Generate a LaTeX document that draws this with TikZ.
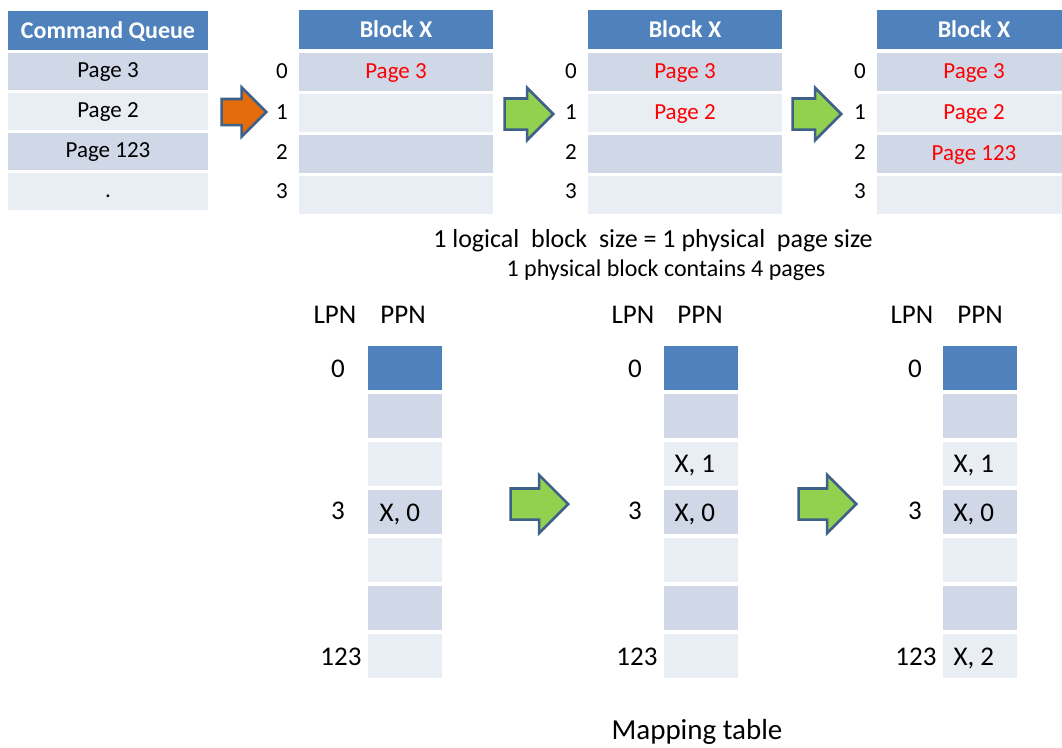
\documentclass[tikz,border=0pt]{standalone}
\usepackage{fontspec}
\setmainfont{Carlito}
\usetikzlibrary{shapes.arrows}

\definecolor{hdrblue}{HTML}{4F81BD}
\definecolor{rowdark}{HTML}{D0D8E8}
\definecolor{rowlight}{HTML}{E9EDF4}
\definecolor{arrowedge}{HTML}{3F6088}
\definecolor{orangefill}{HTML}{E46C0A}
\definecolor{greenfill}{HTML}{92D050}

\tikzset{
  cell/.style={inner sep=0pt, outer sep=0pt, font=\fontsize{23}{27}\selectfont, text height=15pt, text depth=3pt},
  hdr/.style={cell, fill=hdrblue, text=white, font=\fontsize{24}{29}\selectfont\bfseries, text height=16pt, text depth=0pt, minimum height=39pt},
  rowd/.style={cell, fill=rowdark, minimum height=37pt},
  rowl/.style={cell, fill=rowlight, minimum height=37pt},
  idx/.style={font=\fontsize{23}{27}\selectfont},
  ppn/.style={inner sep=0pt, outer sep=0pt, minimum width=74pt, minimum height=44pt},
  lbl/.style={font=\fontsize{27}{32}\selectfont},
  entry/.style={font=\fontsize{27}{32}\selectfont, anchor=west},
  blockarrow/.style={single arrow, draw=arrowedge, line width=2.6pt, inner xsep=0pt, anchor=tip},
  orangearrow/.style={blockarrow, fill=orangefill, inner ysep=11.75pt, single arrow head extend=11.5pt, minimum height=44.5pt},
  greenarrow/.style={blockarrow, fill=greenfill, inner ysep=14.25pt, single arrow head extend=10.5pt, minimum height=48.5pt},
  biggreenarrow/.style={blockarrow, fill=greenfill, inner ysep=14.25pt, single arrow head extend=13.5pt, minimum height=57.5pt}
}

\begin{document}
\begin{tikzpicture}[x=1pt, y=-1pt]
  \useasboundingbox (0,0) rectangle (1062,747);
  \clip (0,0) rectangle (1062,747);

  % Command queue
  \node[hdr, minimum width=200pt] (cqh) at (108,30.5) {Command Queue};
  \node[rowd, minimum width=200pt] (cq1) at (108,71.5) {Page 3};
  \node[rowl, minimum width=200pt] (cq2) at (108,111.5) {Page 2};
  \node[rowd, minimum width=200pt] (cq3) at (108,151.5) {Page 123};
  \node[rowl, minimum width=200pt] (cq4) at (108,191) {.};

  % First block
  \node[hdr, minimum width=194pt] (bah) at (396,29.5) {Block X};
  \node[rowd, minimum width=194pt, minimum height=38pt] (ba0) at (396,72) {\textcolor{red}{Page 3}};
  \node[rowl, minimum width=194pt, minimum height=38pt] (ba1) at (396,113) {};
  \node[rowd, minimum width=194pt, minimum height=38pt] (ba2) at (396,154) {};
  \node[rowl, minimum width=194pt, minimum height=38pt] (ba3) at (396,195) {};
  \node[idx] (ia0) at (282,71) {0};
  \node[idx] (ia1) at (282,112) {1};
  \node[idx] (ia2) at (282,152) {2};
  \node[idx] (ia3) at (282,191) {3};

  % Second block
  \node[hdr, minimum width=194pt] (bbh) at (685,29.5) {Block X};
  \node[rowd, minimum width=194pt, minimum height=38pt] (bb0) at (685,72) {\textcolor{red}{Page 3}};
  \node[rowl, minimum width=194pt, minimum height=38pt] (bb1) at (685,113) {\textcolor{red}{Page 2}};
  \node[rowd, minimum width=194pt, minimum height=38pt] (bb2) at (685,154) {};
  \node[rowl, minimum width=194pt, minimum height=38pt] (bb3) at (685,195) {};
  \node[idx] (ib0) at (571,71) {0};
  \node[idx] (ib1) at (571,112) {1};
  \node[idx] (ib2) at (571,152) {2};
  \node[idx] (ib3) at (571,191) {3};

  % Third block
  \node[hdr, minimum width=194pt] (bch) at (974,29.5) {Block X};
  \node[rowd, minimum width=194pt, minimum height=38pt] (bc0) at (974,72) {\textcolor{red}{Page 3}};
  \node[rowl, minimum width=194pt, minimum height=38pt] (bc1) at (974,113) {\textcolor{red}{Page 2}};
  \node[rowd, minimum width=194pt, minimum height=38pt] (bc2) at (974,154) {\textcolor{red}{Page 123}};
  \node[rowl, minimum width=194pt, minimum height=38pt] (bc3) at (974,195) {};
  \node[idx] (ic0) at (860,71) {0};
  \node[idx] (ic1) at (860,112) {1};
  \node[idx] (ic2) at (860,152) {2};
  \node[idx] (ic3) at (860,191) {3};

  % Arrows between the blocks
  \node[orangearrow] (arr1) at (268,112) {};
  \node[greenarrow] (arr2) at (555,114) {};
  \node[greenarrow] (arr3) at (843,114) {};

  \node[font=\fontsize{26}{30}\selectfont] (note1) at (653,241) {1 logical\ \ block\ \ size = 1 physical\ \ page size};
  \node[font=\fontsize{24}{28}\selectfont] (note2) at (666,270) {1 physical block contains 4 pages};

  % First mapping table
  \node[lbl] (lpna) at (335,315) {LPN};
  \node[lbl] (ppna) at (403,315) {PPN};
  \node[ppn, fill=hdrblue] (ma1) at (405,368) {};
  \node[ppn, fill=rowdark] (ma2) at (405,416) {};
  \node[ppn, fill=rowlight] (ma3) at (405,464) {};
  \node[ppn, fill=rowdark] (ma4) at (405,512) {};
  \node[ppn, fill=rowlight] (ma5) at (405,560) {};
  \node[ppn, fill=rowdark] (ma6) at (405,608) {};
  \node[ppn, fill=rowlight] (ma7) at (405,656) {};
  \node[lbl] (la0) at (338,369) {0};
  \node[lbl] (la3) at (338,511) {3};
  \node[lbl, anchor=east] (la123) at (365,657) {123};
  \node[entry] (ea3) at (376,514) {X, 0};

  % Second mapping table
  \node[lbl] (lpnb) at (633,315) {LPN};
  \node[lbl] (ppnb) at (700,315) {PPN};
  \node[ppn, fill=hdrblue] (mb1) at (700.5,368) {};
  \node[ppn, fill=rowdark] (mb2) at (700.5,416) {};
  \node[ppn, fill=rowlight] (mb3) at (700.5,464) {};
  \node[ppn, fill=rowdark] (mb4) at (700.5,512) {};
  \node[ppn, fill=rowlight] (mb5) at (700.5,560) {};
  \node[ppn, fill=rowdark] (mb6) at (700.5,608) {};
  \node[ppn, fill=rowlight] (mb7) at (700.5,656) {};
  \node[lbl] (lb0) at (635,369) {0};
  \node[lbl] (lb3) at (635,511) {3};
  \node[lbl, anchor=east] (lb123) at (661,657) {123};
  \node[entry] (eb2) at (671,466) {X, 1};
  \node[entry] (eb3) at (671,514) {X, 0};

  % Third mapping table
  \node[lbl] (lpnc) at (912,315) {LPN};
  \node[lbl] (ppnc) at (980,315) {PPN};
  \node[ppn, fill=hdrblue] (mc1) at (979.5,368) {};
  \node[ppn, fill=rowdark] (mc2) at (979.5,416) {};
  \node[ppn, fill=rowlight] (mc3) at (979.5,464) {};
  \node[ppn, fill=rowdark] (mc4) at (979.5,512) {};
  \node[ppn, fill=rowlight] (mc5) at (979.5,560) {};
  \node[ppn, fill=rowdark] (mc6) at (979.5,608) {};
  \node[ppn, fill=rowlight] (mc7) at (979.5,656) {};
  \node[lbl] (lc0) at (915,369) {0};
  \node[lbl] (lc3) at (915,511) {3};
  \node[lbl, anchor=east] (lc123) at (940,657) {123};
  \node[entry] (ec2) at (950,466) {X, 1};
  \node[entry] (ec3) at (950,514) {X, 0};
  \node[entry] (ec7) at (950,658) {X, 2};

  % Arrows between the tables
  \node[biggreenarrow] (arr4) at (570,504) {};
  \node[biggreenarrow] (arr5) at (858,504) {};

  \node[font=\fontsize{29}{34}\selectfont] (caption) at (697,732) {Mapping table};
\end{tikzpicture}
\end{document}
